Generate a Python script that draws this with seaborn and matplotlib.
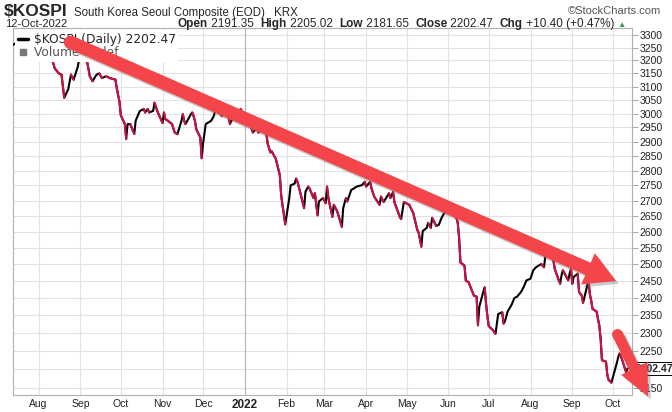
import numpy as np
import pandas as pd
import seaborn as sns
import matplotlib.pyplot as plt
import matplotlib.dates as mdates
from matplotlib import patheffects as pe
from matplotlib.collections import LineCollection
from matplotlib.lines import Line2D
from matplotlib.ticker import NullLocator, NullFormatter

# -------------------------------------------------------------------
# Data read off the chart (daily closes, sampled at the turning points)
# -------------------------------------------------------------------
dates = [
    "2021-07-13", "2021-07-16", "2021-07-20", "2021-07-23", "2021-07-26", "2021-07-30",
    "2021-08-05", "2021-08-10", "2021-08-13", "2021-08-16", "2021-08-18", "2021-08-20",
    "2021-08-23", "2021-08-25", "2021-08-27", "2021-08-30", "2021-08-31", "2021-09-03",
    "2021-09-06", "2021-09-08", "2021-09-10", "2021-09-13", "2021-09-15", "2021-09-17",
    "2021-09-20", "2021-09-23", "2021-09-27", "2021-09-28", "2021-09-30", "2021-10-01",
    "2021-10-04", "2021-10-05", "2021-10-06", "2021-10-08", "2021-10-11", "2021-10-12",
    "2021-10-15", "2021-10-18", "2021-10-19", "2021-10-21", "2021-10-22", "2021-10-25",
    "2021-10-26", "2021-10-28", "2021-10-29", "2021-11-01", "2021-11-02", "2021-11-03",
    "2021-11-05", "2021-11-08", "2021-11-10", "2021-11-12", "2021-11-15", "2021-11-16",
    "2021-11-17", "2021-11-18", "2021-11-22", "2021-11-23", "2021-11-24", "2021-11-25",
    "2021-11-26", "2021-11-29", "2021-11-30", "2021-12-01", "2021-12-03", "2021-12-07",
    "2021-12-09", "2021-12-10", "2021-12-13", "2021-12-15", "2021-12-17", "2021-12-20",
    "2021-12-21", "2021-12-22", "2021-12-24", "2021-12-27", "2021-12-29", "2021-12-30",
    "2022-01-03", "2022-01-05", "2022-01-07", "2022-01-10", "2022-01-11", "2022-01-14",
    "2022-01-17", "2022-01-18", "2022-01-20", "2022-01-21", "2022-01-24", "2022-01-27",
    "2022-01-28", "2022-01-31", "2022-02-03", "2022-02-04", "2022-02-07", "2022-02-08",
    "2022-02-09", "2022-02-11", "2022-02-14", "2022-02-15", "2022-02-17", "2022-02-18",
    "2022-02-21", "2022-02-22", "2022-02-24", "2022-02-25", "2022-02-28", "2022-03-02",
    "2022-03-03", "2022-03-04", "2022-03-07", "2022-03-08", "2022-03-10", "2022-03-11",
    "2022-03-14", "2022-03-15", "2022-03-17", "2022-03-18", "2022-03-21", "2022-03-23",
    "2022-03-25", "2022-03-29", "2022-03-31", "2022-04-01", "2022-04-04", "2022-04-05",
    "2022-04-07", "2022-04-11", "2022-04-12", "2022-04-14", "2022-04-18", "2022-04-19",
    "2022-04-21", "2022-04-22", "2022-04-25", "2022-04-26", "2022-04-27", "2022-04-29",
    "2022-05-03", "2022-05-06", "2022-05-09", "2022-05-10", "2022-05-12", "2022-05-13",
    "2022-05-16", "2022-05-17", "2022-05-19", "2022-05-20", "2022-05-23", "2022-05-25",
    "2022-05-27", "2022-05-31", "2022-06-02", "2022-06-03", "2022-06-07", "2022-06-08",
    "2022-06-09", "2022-06-10", "2022-06-13", "2022-06-14", "2022-06-16", "2022-06-20",
    "2022-06-22", "2022-06-23", "2022-06-24", "2022-06-27", "2022-06-28", "2022-06-29",
    "2022-06-30", "2022-07-01", "2022-07-04", "2022-07-06", "2022-07-07", "2022-07-08",
    "2022-07-11", "2022-07-12", "2022-07-13", "2022-07-15", "2022-07-18", "2022-07-20",
    "2022-07-22", "2022-07-25", "2022-07-27", "2022-07-29", "2022-08-01", "2022-08-03",
    "2022-08-05", "2022-08-09", "2022-08-11", "2022-08-12", "2022-08-16", "2022-08-17",
    "2022-08-18", "2022-08-19", "2022-08-22", "2022-08-23", "2022-08-24", "2022-08-25",
    "2022-08-29", "2022-08-30", "2022-08-31", "2022-09-01", "2022-09-02", "2022-09-05",
    "2022-09-06", "2022-09-08", "2022-09-09", "2022-09-13", "2022-09-14", "2022-09-15",
    "2022-09-16", "2022-09-19", "2022-09-20", "2022-09-21", "2022-09-22", "2022-09-23",
    "2022-09-26", "2022-09-27", "2022-09-28", "2022-09-29", "2022-09-30", "2022-10-04",
    "2022-10-05", "2022-10-06", "2022-10-07", "2022-10-11", "2022-10-12",
]
closes = [
    3260, 3272, 3214, 3240, 3221, 3214,
    3252, 3221, 3169, 3150, 3145, 3058,
    3090, 3145, 3126, 3174, 3202, 3202,
    3195, 3139, 3120, 3145, 3150, 3132,
    3139, 3132, 3126, 3094, 3043, 2994,
    2962, 2909, 2962, 2962, 2927, 2974,
    3009, 3017, 3004, 3017, 3004, 3010,
    3040, 3010, 2998, 2966, 3004, 2980,
    2974, 2962, 2932, 2926, 2974, 2998,
    2974, 2962, 2998, 3004, 2991, 2974,
    2944, 2914, 2842, 2892, 2962, 2974,
    2991, 3010, 3004, 2991, 3004, 2986,
    2962, 2974, 2991, 3004, 3017, 3004,
    2980, 2962, 2932, 2950, 2932, 2944,
    2927, 2892, 2862, 2866, 2840, 2784,
    2716, 2623, 2708, 2750, 2756, 2773,
    2763, 2729, 2675, 2729, 2746, 2740,
    2708, 2724, 2652, 2697, 2708, 2691,
    2746, 2708, 2647, 2686, 2670, 2659,
    2615, 2675, 2708, 2697, 2735, 2740,
    2746, 2751, 2762, 2746, 2762, 2740,
    2713, 2686, 2713, 2695, 2724, 2708,
    2728, 2695, 2659, 2647, 2640, 2695,
    2686, 2659, 2605, 2597, 2553, 2602,
    2612, 2628, 2612, 2644, 2618, 2622,
    2644, 2675, 2670, 2664, 2644, 2628,
    2581, 2505, 2495, 2450, 2446, 2406,
    2403, 2321, 2374, 2418, 2430, 2383,
    2346, 2319, 2308, 2297, 2326, 2353,
    2358, 2326, 2332, 2360, 2380, 2399,
    2403, 2417, 2432, 2451, 2456, 2481,
    2490, 2500, 2490, 2525, 2535, 2525,
    2510, 2485, 2451, 2441, 2466, 2481,
    2451, 2471, 2485, 2441, 2461, 2471,
    2417, 2406, 2385, 2451, 2411, 2392,
    2368, 2360, 2340, 2321, 2284, 2225,
    2221, 2185, 2172, 2169, 2165, 2217,
    2232, 2243, 2237, 2192, 2202.47,
]

y_ticks = list(range(2150, 3301, 50))
# the 2200 label sits under the last-price tag, so it is left blank
y_labels = ["" if t == 2200 else str(t) for t in y_ticks]
month_starts = pd.date_range("2021-08-01", "2022-10-01", freq="MS")
month_labels = ["Aug", "Sep", "Oct", "Nov", "Dec", "2022", "Feb", "Mar",
                "Apr", "May", "Jun", "Jul", "Aug", "Sep", "Oct"]

# trend arrows drawn over the chart: (start date, start value, end date, end value)
arrow_long = ("2021-08-24 07:00", 3272, "2022-10-03 10:00", 2449)
arrow_short = ("2022-10-04 12:00", 2297, "2022-10-27 05:00", 2129)

# -------------------------------------------------------------------
# Figure
# -------------------------------------------------------------------
sns.set_style("white")
plt.rcParams["font.family"] = ["Liberation Sans", "DejaVu Sans"]

W, H = 672, 412
fig = plt.figure(figsize=(W / 100, H / 100), dpi=100)
ax = fig.add_axes([13 / W, 1 - 395 / H, (632 - 13) / W, (395 - 28) / H])

df = pd.DataFrame({"date": pd.to_datetime(dates), "close": closes})

# base line (up days black), then overlay the down days in red
sns.lineplot(data=df, x="date", y="close", color="black", lw=1.5, ax=ax, zorder=3)
xn = mdates.date2num(df["date"])
pts = np.column_stack([xn, df["close"].values])
segs = np.stack([pts[:-1], pts[1:]], axis=1)
down = np.diff(df["close"].values) < 0
ax.add_collection(LineCollection(segs[down], colors="#cc1144", linewidths=1.5,
                                 capstyle="round", zorder=4))

ax.set_yscale("log")
ax.set_ylim(2133, 3328)
ax.set_xlim(mdates.date2num(pd.Timestamp("2021-07-13")),
            mdates.date2num(pd.Timestamp("2022-10-15 07:00")))

ax.set_yticks(y_ticks, y_labels)
ax.yaxis.set_minor_locator(NullLocator())
ax.yaxis.set_minor_formatter(NullFormatter())
ax.yaxis.tick_right()
ax.tick_params(axis="y", length=4, width=0.6, color="#999999", labelsize=7.5,
               pad=1.5, labelcolor="#222222")

ax.set_xticks(mdates.date2num(month_starts), month_labels)
ax.tick_params(axis="x", length=0, pad=3, labelsize=7.5, labelcolor="#222222")
for lab in ax.get_xticklabels():
    if lab.get_text() == "2022":
        lab.set_fontweight("bold")
        lab.set_fontsize(8.5)

ax.set_xlabel("")
ax.set_ylabel("")
ax.grid(True, color="#e2e2e2", lw=0.8)
ax.axvline(mdates.date2num(pd.Timestamp("2022-01-01")), color="#b5b5b5", lw=0.8, zorder=0.6)
for sp in ax.spines.values():
    sp.set_color("#b0b0b0")
    sp.set_linewidth(0.8)

# last price tag on the right axis
ax.annotate(f"{closes[-1]:.2f}", xy=(1, closes[-1]), xycoords=("axes fraction", "data"),
            xytext=(2.5, 0), textcoords="offset points", va="center", ha="left",
            fontsize=7.5, fontweight="bold",
            bbox=dict(boxstyle="square,pad=0.15", fc="white", ec="black", lw=0.7),
            annotation_clip=False, zorder=5)

# in-chart legend
handles = [Line2D([], [], color="black", lw=2.5),
           Line2D([], [], color="#777777", ls="none", marker="s", ms=4)]
leg = ax.legend(handles, ["\\$KOSPI (Daily) 2202.47", "Volume undef"], loc="upper left",
                bbox_to_anchor=(0, 1), borderaxespad=0.2, borderpad=0.2, handlelength=0.8,
                handletextpad=0.5, labelspacing=0.05, frameon=True, framealpha=1,
                edgecolor="none", fancybox=False, prop={"family": "DejaVu Sans", "size": 8.8})
leg.get_texts()[1].set_color("#555555")
leg.set_zorder(5)

# red trend arrows
arrow_color = "#f4454b"
shadow = [pe.SimplePatchShadow(offset=(2, -2), shadow_rgbFace="0.4", alpha=0.35), pe.Normal()]
for (d0, v0, d1, v1), tw, hw, hl in [(arrow_long, 0.95, 2.45, 2.2), (arrow_short, 0.78, 2.1, 2.25)]:
    x0 = mdates.date2num(pd.Timestamp(d0))
    x1 = mdates.date2num(pd.Timestamp(d1))
    ax.annotate("", xy=(x1, v1), xytext=(x0, v0),
                arrowprops=dict(arrowstyle=f"simple,head_length={hl},head_width={hw},tail_width={tw}",
                                mutation_scale=10, fc=arrow_color, ec="none",
                                shrinkA=0, shrinkB=0, path_effects=shadow),
                annotation_clip=False, zorder=6)
    ax.plot([x0], [v0], "o", ms=tw * 10, color=arrow_color, mec="none", zorder=6, clip_on=False)

# -------------------------------------------------------------------
# Header lines
# -------------------------------------------------------------------
def fx(px):
    return px / W


def fy(py):
    return 1 - py / H


fig.text(fx(4), fy(16), "\\$KOSPI", fontsize=12.5, fontweight="bold", va="baseline")
fig.text(fx(74), fy(16), "South Korea Seoul Composite (EOD)", fontsize=8.3, va="baseline")
fig.text(fx(274), fy(16), "KRX", fontsize=8.3, va="baseline")
fig.text(fx(661), fy(14), "\u00a9StockCharts.com", fontsize=8, va="baseline", ha="right",
         color="#555555")
fig.text(fx(5), fy(27), "12-Oct-2022", fontsize=8, va="baseline")

pieces = [("Open", "bold"), (" 2191.35  ", "normal"), ("High", "bold"), (" 2205.02  ", "normal"),
          ("Low", "bold"), (" 2181.65  ", "normal"), ("Close", "bold"), (" 2202.47  ", "normal"),
          ("Chg", "bold"), (" +10.40 (+0.47%) ", "normal")]
prev = fig.text(fx(178), fy(27), pieces[0][0], fontsize=8.5, fontweight=pieces[0][1], va="baseline")
for txt, wt in pieces[1:]:
    prev = ax.annotate(txt, xy=(1, 0), xycoords=prev, va="bottom", ha="left",
                       fontsize=8.5, fontweight=wt, annotation_clip=False)
ax.annotate("\u25b2", xy=(1, 0.1), xycoords=prev, va="bottom", ha="left", fontsize=6,
            color="#2e9e3e", annotation_clip=False)

fig.savefig("out.png", dpi=100)
